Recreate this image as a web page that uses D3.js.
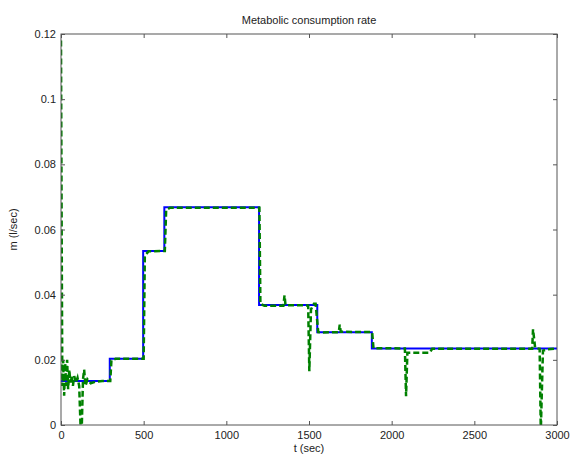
<!DOCTYPE html>
<html>
<head>
<meta charset="utf-8">
<script src="https://cdn.jsdelivr.net/npm/d3@7"></script>
<style>
  body { margin: 0; background: #fff; }
  text { font-family: "Liberation Sans", Arial, sans-serif; fill: #222; }
</style>
</head>
<body>
<script>
// reference step input (blue) : [t, m]
var refSteps = [
  [0, 0.0135], [295, 0.0135], [295, 0.0203], [497, 0.0203], [497, 0.0534],
  [625, 0.0534], [625, 0.0668], [1198, 0.0668], [1198, 0.0368], [1550, 0.0368],
  [1550, 0.0285], [1880, 0.0285], [1880, 0.0235], [3000, 0.0235]
];

// estimated response (green dashed) : [t, m]
var estimate = [
  [0, 0.118], [4, 0.06], [8, 0.012], [13, 0.02], [19, 0.009], [25, 0.019],
  [31, 0.012], [37, 0.02], [43, 0.011], [50, 0.017], [57, 0.013], [64, 0.015],
  [72, 0.012], [80, 0.015], [90, 0.013], [100, 0.0145], [110, 0.012],
  [118, 0.0], [126, 0.0], [133, 0.014], [140, 0.017], [148, 0.012],
  [160, 0.014], [180, 0.0128], [210, 0.0133], [250, 0.0135], [298, 0.0135],
  [305, 0.0198], [330, 0.0203], [500, 0.0203], [507, 0.052], [530, 0.0533],
  [628, 0.0534], [636, 0.066], [660, 0.0667], [1200, 0.0667], [1206, 0.0372],
  [1230, 0.0366], [1345, 0.0366], [1352, 0.0398], [1358, 0.0368],
  [1495, 0.0367], [1502, 0.0165], [1512, 0.0355], [1530, 0.0372],
  [1540, 0.0372], [1556, 0.0285], [1580, 0.0284], [1680, 0.0285],
  [1686, 0.0308], [1692, 0.0286], [1882, 0.0285], [1890, 0.0236],
  [2080, 0.0235], [2087, 0.0088], [2095, 0.0222], [2230, 0.0222],
  [2245, 0.0234], [2850, 0.0234], [2855, 0.0294], [2868, 0.0236],
  [2895, 0.0234], [2902, -0.002], [2915, 0.0228], [2940, 0.0232], [3000, 0.0235]
];

var xTicks = [0, 500, 1000, 1500, 2000, 2500, 3000];
var yTicks = [0, 0.02, 0.04, 0.06, 0.08, 0.1, 0.12];

(function(){
var width = 570, height = 462;
var pl = 61, pr = 557, pt = 34, pb = 425;

var svg = d3.select("body").append("svg")
  .attr("width", width)
  .attr("height", height);

var x = d3.scaleLinear().domain([0, 3000]).range([pl, pr]);
var y = d3.scaleLinear().domain([0, 0.12]).range([pb, pt]);

svg.append("defs").append("clipPath").attr("id", "clip")
  .append("rect").attr("x", pl).attr("y", pt)
  .attr("width", pr - pl).attr("height", pb - pt);

var line = d3.line().x(function(d){ return x(d[0]); }).y(function(d){ return y(d[1]); });

var g = svg.append("g").attr("clip-path", "url(#clip)");
g.append("path").datum(refSteps)
  .attr("d", line).attr("fill", "none")
  .attr("stroke", "#0000ff").attr("stroke-width", 2);
g.append("path").datum(estimate)
  .attr("d", line).attr("fill", "none")
  .attr("stroke", "#008000").attr("stroke-width", 2.5)
  .attr("stroke-dasharray", "6,3");

// axes (matlab style: box with inward ticks both sides)
var tk = 4;
var axisCol = "#555";
var xb = svg.append("g").attr("transform", "translate(0," + pb + ")")
  .call(d3.axisBottom(x).tickValues(xTicks).tickSize(-tk).tickPadding(6).tickFormat(d3.format("d")));
var xt = svg.append("g").attr("transform", "translate(0," + pt + ")")
  .call(d3.axisTop(x).tickValues(xTicks).tickSize(-tk).tickFormat(""));
var yl = svg.append("g").attr("transform", "translate(" + pl + ",0)")
  .call(d3.axisLeft(y).tickValues(yTicks).tickSize(-tk).tickPadding(5).tickFormat(function(d){ return d === 0 ? "0" : String(+d.toFixed(2)); }));
var yr = svg.append("g").attr("transform", "translate(" + pr + ",0)")
  .call(d3.axisRight(y).tickValues(yTicks).tickSize(-tk).tickFormat(""));

[xb, xt, yl, yr].forEach(function(a){
  a.select(".domain").remove();
  a.selectAll(".tick line").attr("stroke", axisCol);
  a.selectAll("text").style("font-size", "11px").attr("fill", "#222")
    .style("font-family", "Liberation Sans, Arial, sans-serif");
});
svg.append("rect").attr("x", pl).attr("y", pt)
  .attr("width", pr - pl).attr("height", pb - pt)
  .attr("fill", "none").attr("stroke", axisCol).attr("stroke-width", 1);

svg.append("text").attr("x", (pl + pr) / 2).attr("y", 24)
  .attr("text-anchor", "middle").style("font-size", "11px")
  .text("Metabolic consumption rate");
svg.append("text").attr("x", (pl + pr) / 2).attr("y", 452)
  .attr("text-anchor", "middle").style("font-size", "11px")
  .text("t (sec)");
svg.append("text")
  .attr("transform", "translate(17," + ((pt + pb) / 2) + ") rotate(-90)")
  .attr("text-anchor", "middle").style("font-size", "11px")
  .text("m (l/sec)");
})();
</script>
</body>
</html>
